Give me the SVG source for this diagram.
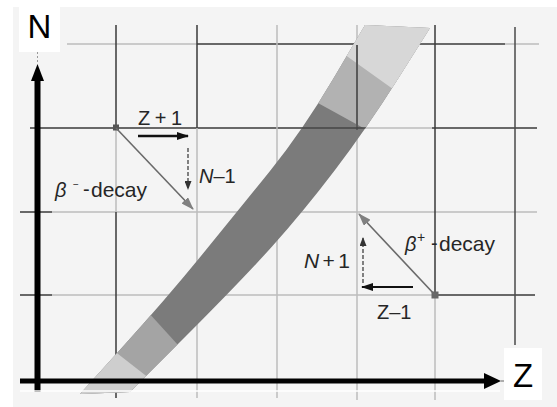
<svg xmlns="http://www.w3.org/2000/svg" width="557" height="407" viewBox="0 0 557 407">
  <style>
    .lt { stroke: #bdbdbd; stroke-width: 1.5; fill: none; }
    .dk { stroke: #3a3a3a; stroke-width: 1.5; fill: none; }
    .txt { font-family: "Liberation Sans", Arial, sans-serif; fill: #262626; }
    .ax { font-family: "Liberation Sans", Arial, sans-serif; fill: #000; font-size: 33px; text-anchor: middle; }
  </style>
  <defs>
    <clipPath id="bandClip">
      <path d="M 80 394 L 122.5 347 Q 165 300 201 256 Q 237 212 270 171 Q 303 130 334 77.5 L 365 25 L 430 28 L 398.5 78 Q 367 128 335 170 Q 303 212 272.5 246 Q 242 280 186 336 L 130 392 Z"/>
    </clipPath>
    <marker id="ahBlack" markerUnits="userSpaceOnUse" markerWidth="12" markerHeight="8" refX="11" refY="4" orient="auto">
      <path d="M0,0 L12,4 L0,8 Z" fill="#111"/>
    </marker>
    <marker id="ahSmall" markerUnits="userSpaceOnUse" markerWidth="9" markerHeight="7" refX="8" refY="3.5" orient="auto">
      <path d="M0,0 L9,3.5 L0,7 Z" fill="#333"/>
    </marker>
    <marker id="ahGray" markerUnits="userSpaceOnUse" markerWidth="13" markerHeight="9" refX="12" refY="4.5" orient="auto">
      <path d="M0,0 L13,4.5 L0,9 Z" fill="#808080"/>
    </marker>
  </defs>

  <rect id="background" x="13" y="7" width="544" height="400" fill="#f4f4f4"/>

  <g id="grid">
    <line class="lt" x1="67" y1="44" x2="197" y2="44"/>
    <line class="dk" x1="197" y1="44" x2="505" y2="44"/>
    <line class="lt" x1="505" y1="44" x2="539" y2="44"/>
    <line class="dk" x1="30" y1="128" x2="357" y2="128"/>
    <line class="lt" x1="357" y1="128" x2="432" y2="128"/>
    <line class="dk" x1="432" y1="128" x2="537" y2="128"/>
    <line class="dk" x1="20" y1="212" x2="52" y2="212"/>
    <line class="lt" x1="52" y1="212" x2="537" y2="212"/>
    <line class="dk" x1="20" y1="295" x2="52" y2="295"/>
    <line class="lt" x1="52" y1="295" x2="433" y2="295"/>
    <line class="dk" x1="433" y1="295" x2="535" y2="295"/>
    <line class="dk" x1="116" y1="25" x2="116" y2="128"/>
    <line class="lt" x1="116" y1="128" x2="116" y2="212"/>
    <line class="dk" x1="116" y1="212" x2="116" y2="398"/>
    <line class="dk" x1="197" y1="25" x2="197" y2="128"/>
    <line class="lt" x1="197" y1="128" x2="197" y2="398"/>
    <line class="lt" x1="277" y1="25" x2="277" y2="398"/>
    <line class="lt" x1="357" y1="25" x2="357" y2="400"/>
    <line class="dk" x1="435" y1="25" x2="435" y2="295"/>
    <line class="lt" x1="435" y1="295" x2="435" y2="400"/>
    <line x1="515" y1="27" x2="515" y2="345" stroke="#4a4a4a" stroke-width="1.5"/>
  </g>

  <g id="stability-band" clip-path="url(#bandClip)">
    <rect x="60" y="20" width="400" height="380" fill="#7b7b7b"/>
    <polygon points="220,49 465,184 465,0 220,0" fill="#b2b2b2"/>
    <polygon points="250,-13 495,162 495,-13" fill="#d7d7d7"/>
    <polygon points="88,246 238,411 0,411 0,246" fill="#a4a4a4"/>
    <polygon points="49,300 209,425 0,425 0,300" fill="#cecece"/>
    <line x1="357" y1="45" x2="357" y2="130" stroke="#5a5a5a" stroke-width="2"/>
    <line x1="300" y1="128" x2="370" y2="128" stroke="#444" stroke-width="1.5"/>
  </g>

  <g id="axes">
    <line x1="37.5" y1="44" x2="37.5" y2="64" stroke="#999" stroke-width="1" stroke-dasharray="2,2"/>
    <rect x="34.5" y="78" width="6" height="314" fill="#000"/>
    <polygon points="37.5,64 31,81 44,81" fill="#000"/>
    <rect x="20" y="378.5" width="467" height="5" fill="#000"/>
    <polygon points="501,381 484,373 484,389" fill="#000"/>
    <line x1="501" y1="381" x2="505" y2="381" stroke="#666" stroke-width="1"/>
    <line x1="20" y1="391" x2="500" y2="391" stroke="#ffffff" stroke-width="1.5"/>
  </g>

  <g id="label-N">
    <rect x="19" y="0" width="41" height="52" fill="#ffffff"/>
    <text class="ax" x="39.5" y="38">N</text>
  </g>
  <g id="label-Z">
    <rect x="504" y="348" width="38" height="52" fill="#ffffff"/>
    <text class="ax" x="523" y="387">Z</text>
  </g>

  <g id="beta-minus">
    <rect x="113" y="124.5" width="6" height="6" fill="#555"/>
    <text class="txt" x="138" y="125" font-size="20" textLength="44" lengthAdjust="spacing">Z+1</text>
    <text class="txt" x="199" y="183" font-size="20"><tspan font-style="italic">N</tspan>–1</text>
    <text class="txt" x="55" y="197" font-size="20" font-style="italic">β</text>
    <text class="txt" x="73" y="188" font-size="10" fill="#999">−</text>
    <text class="txt" x="83" y="196" font-size="20">-</text>
    <text class="txt" x="91" y="197" font-size="21">decay</text>
  </g>

  <g id="beta-plus">
    <rect x="431.5" y="291.5" width="7" height="7" fill="#666"/>
    <text class="txt" x="304" y="268" font-size="21" textLength="46" lengthAdjust="spacing"><tspan font-style="italic">N</tspan>+1</text>
    <text class="txt" x="377" y="319" font-size="20">Z–1</text>
    <text class="txt" x="405" y="251" font-size="20" font-style="italic">β</text>
    <text class="txt" x="417" y="242" font-size="14">+</text>
    <text class="txt" x="431" y="250" font-size="20">-</text>
    <text class="txt" x="439" y="251" font-size="21">decay</text>
  </g>

  <g id="connectors">
    <line x1="116" y1="128" x2="193" y2="209" stroke="#6a6a6a" stroke-width="1.6" marker-end="url(#ahGray)"/>
    <line x1="138" y1="136" x2="188" y2="136" stroke="#111" stroke-width="2.5" marker-end="url(#ahBlack)"/>
    <line x1="188" y1="148" x2="188" y2="189" stroke="#333" stroke-width="1.2" stroke-dasharray="4,2" marker-end="url(#ahSmall)"/>
    <line x1="435" y1="295" x2="359" y2="214" stroke="#6a6a6a" stroke-width="1.6" marker-end="url(#ahGray)"/>
    <line x1="413" y1="287" x2="362" y2="287" stroke="#111" stroke-width="2" marker-end="url(#ahBlack)"/>
    <line x1="363" y1="283" x2="363" y2="238" stroke="#333" stroke-width="1.2" stroke-dasharray="4,2" marker-end="url(#ahSmall)"/>
  </g>
</svg>
